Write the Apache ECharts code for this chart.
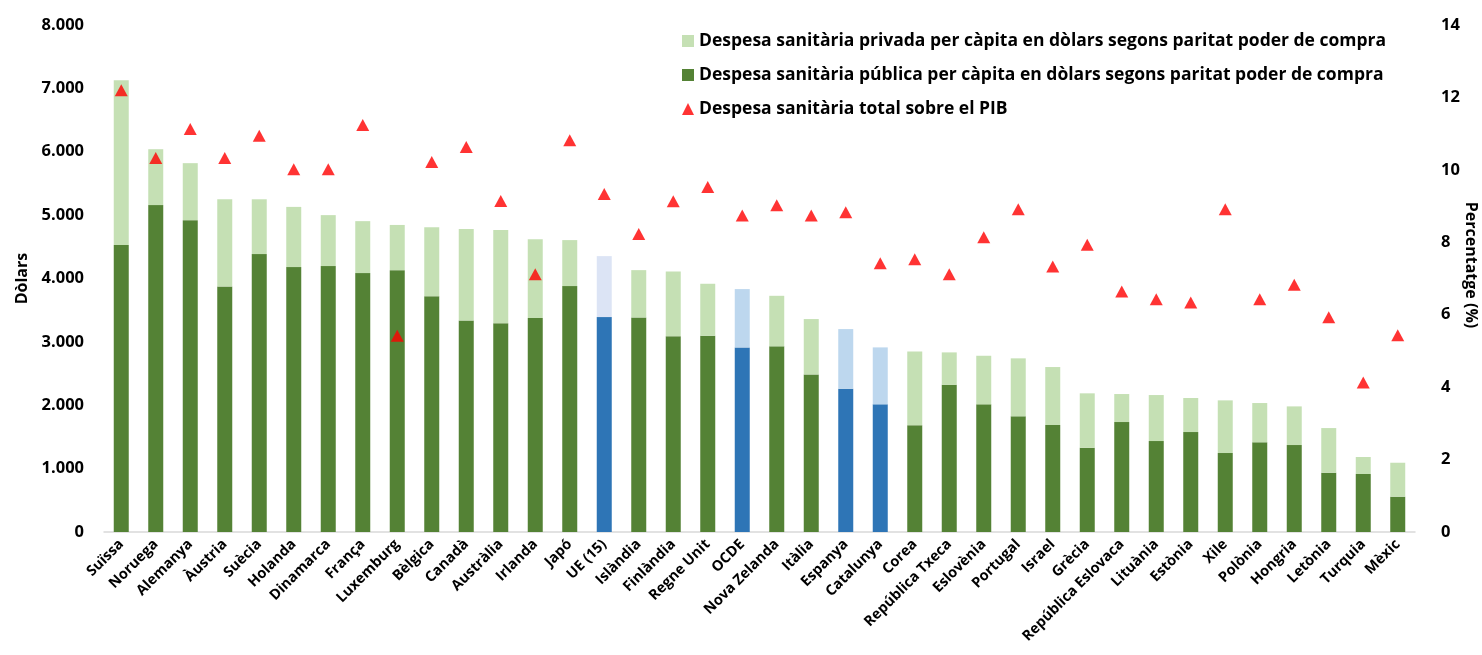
<!DOCTYPE html>
<html>
<head>
<meta charset="utf-8">
<script src="https://cdn.jsdelivr.net/npm/echarts@6/dist/echarts.min.js"></script>
<style>
html,body{margin:0;padding:0;background:#fff;}
#c{width:1482px;height:655px;}
</style>
</head>
<body>
<div id="c"></div>
<script>
var categories = ['Suïssa','Noruega','Alemanya','Àustria','Suècia','Holanda','Dinamarca','França','Luxemburg','Bèlgica','Canadà','Austràlia','Irlanda','Japó','UE (15)','Islàndia','Finlàndia','Regne Unit','OCDE','Nova Zelanda','Itàlia','Espanya','Catalunya','Corea','República Txeca','Eslovènia','Portugal','Israel','Grècia','República Eslovaca','Lituània','Estònia','Xile','Polònia','Hongria','Letònia','Turquia','Mèxic'];
var totalValues = [7130,6040,5820,5250,5250,5130,5000,4905,4845,4810,4780,4765,4620,4606,4353,4132,4112,3917,3833,3727,3360,3202,2913,2850,2834,2781,2740,2603,2188,2177,2161,2114,2077,2035,1982,1640,1183,1093];
var publicValues = [4527,5158,4921,3875,4385,4180,4196,4085,4132,3718,3339,3292,3375,3880,3391,3386,3087,3096,2913,2929,2487,2261,2014,1683,2323,2014,1825,1688,1330,1735,1435,1577,1246,1415,1372,935,915,557];
var pibValues = [12.2,10.33,11.13,10.33,10.94,10.02,10.02,11.24,5.42,10.22,10.63,9.14,7.12,10.82,9.33,8.23,9.13,9.53,8.74,9.02,8.74,8.83,7.42,7.53,7.12,8.14,8.91,7.33,7.93,6.64,6.43,6.34,8.91,6.43,6.83,5.93,4.13,5.43];
var highlighted = ['UE (15)','OCDE','Espanya','Catalunya'];
var leftTicks = [0,1000,2000,3000,4000,5000,6000,7000,8000];
var rightTicks = [0,2,4,6,8,10,12,14];

var names = {
  priv: 'Despesa sanitària privada per càpita en dòlars segons paritat poder de compra',
  pub: 'Despesa sanitària pública per càpita en dòlars segons paritat poder de compra',
  pib: 'Despesa sanitària total sobre el PIB'
};
var rightAxisName = 'Percentatge (%)';
var C = {pub:'#548235', priv:'#C5E0B4', bluePub:'#2E75B6', bluePriv:'#BDD7EE', blueLight:'#DCE4F5', red:'#FF0000'};

var pubData = categories.map(function(c,i){
  var d = {value: publicValues[i]};
  if (highlighted.indexOf(c) >= 0) d.itemStyle = {color: C.bluePub};
  return d;
});
var privData = categories.map(function(c,i){
  var d = {value: totalValues[i] - publicValues[i]};
  if (c === 'UE (15)') d.itemStyle = {color: C.blueLight};
  else if (highlighted.indexOf(c) >= 0) d.itemStyle = {color: C.bluePriv};
  return d;
});

var font = '"Open Sans", Lato, sans-serif';
var chart = echarts.init(document.getElementById('c'), null, {renderer:'canvas'});
chart.setOption({
  animation: false,
  textStyle: {fontFamily: font},
  grid: {left:104, right:67, top:25, bottom:123, containLabel:false, outerBoundsMode:'none'},
  legend: {
    left: 677, top: 26, orient: 'vertical',
    itemWidth: 12, itemHeight: 12, itemGap: 14,
    data: [
      {name: names.priv, icon: 'rect'},
      {name: names.pub, icon: 'rect'},
      {name: names.pib, icon: 'triangle'}
    ],
    textStyle: {fontFamily: font, fontWeight:'bold', fontSize:17.5, color:'#000', lineHeight:20, padding:[0,0,0,0]}
  },
  graphic: [{
    type: 'text', x: 1471, y: 265, rotation: -Math.PI/2,
    style: {text: rightAxisName, fill:'#000', font: 'bold 16px "Open Sans", Lato, sans-serif', textAlign:'center', textVerticalAlign:'middle'}
  }],
  xAxis: {
    type: 'category', data: categories,
    axisLine: {show:true, lineStyle:{color:'#D9D9D9', width:1.5}},
    axisTick: {show:false},
    axisLabel: {interval:0, rotate:45, fontFamily:font, fontWeight:'bold', fontSize:14.5, color:'#000', margin:10}
  },
  yAxis: [{
    type: 'value', min: leftTicks[0], max: leftTicks[leftTicks.length-1], interval: 1000,
    name: 'Dòlars', nameLocation:'middle', nameGap: 74, nameMoveOverlap: false,
    nameTextStyle: {fontFamily:font, fontWeight:'bold', fontSize:16, color:'#000'},
    axisLine:{show:false}, axisTick:{show:false}, splitLine:{show:false},
    axisLabel: {fontFamily:font, fontWeight:'bold', fontSize:16.5, color:'#000', margin:20,
      formatter: function(v){ return String(v).replace(/\B(?=(\d{3})+(?!\d))/g,'.'); }}
  },{
    type: 'value', min: rightTicks[0], max: rightTicks[rightTicks.length-1], interval: 2,
    position: 'right',
    axisLine:{show:false}, axisTick:{show:false}, splitLine:{show:false},
    axisLabel: {fontFamily:font, fontWeight:'bold', fontSize:16.5, color:'#000', margin:26}
  }],
  series: [
    {name: names.pub, type:'bar', stack:'s', barWidth:15, data: pubData, itemStyle:{color:C.pub}},
    {name: names.priv, type:'bar', stack:'s', barWidth:15, data: privData, itemStyle:{color:C.priv}},
    {name: names.pib, type:'scatter', yAxisIndex:1, symbol:'triangle', symbolSize:[13,12], data: pibValues, itemStyle:{color:C.red}}
  ]
});
</script>
</body>
</html>
